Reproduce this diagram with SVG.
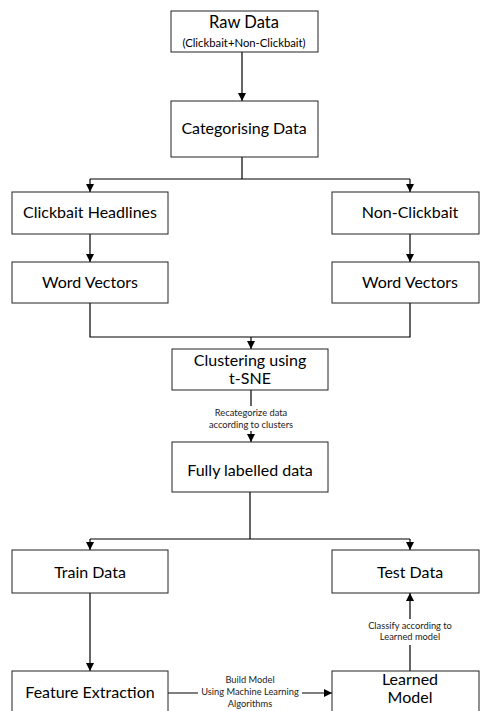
<svg xmlns="http://www.w3.org/2000/svg" width="480" height="711" viewBox="0 0 480 711">
<style>
.box{fill:#fff;stroke:#222;stroke-width:1}
.t{font-family:Lato,"Noto Sans",sans-serif;font-size:16px;fill:#000;text-anchor:middle}
.s{font-family:Lato,"Noto Sans",sans-serif;font-size:9.3px;fill:#222;text-anchor:middle}
.c{fill:none;stroke:#000;stroke-width:1.2}
</style>
<defs>
<marker id="ah" markerWidth="8" markerHeight="8" refX="8" refY="4" orient="auto" markerUnits="userSpaceOnUse">
<path d="M0,0 L8,4 L0,8 Z" fill="#000"/>
</marker>
</defs>
<g id="connectors">
<path class="c" d="M242,52 V101" marker-end="url(#ah)"/>
<path class="c" d="M242,157 V179 M90,179 H410"/>
<path class="c" d="M90,179 V192" marker-end="url(#ah)"/>
<path class="c" d="M410,179 V192" marker-end="url(#ah)"/>
<path class="c" d="M90,234 V262" marker-end="url(#ah)"/>
<path class="c" d="M410,234 V262" marker-end="url(#ah)"/>
<path class="c" d="M90,303 V337 H410 V303"/>
<path class="c" d="M251,337 V349" marker-end="url(#ah)"/>
<path class="c" d="M251,390 V406 M251,431 V442" marker-end="url(#ah)"/>
<text class="s" x="251" y="416">Recategorize data</text>
<text class="s" x="251" y="428">according to clusters</text>
<path class="c" d="M250,492 V539 M90,539 H410"/>
<path class="c" d="M90,539 V550" marker-end="url(#ah)"/>
<path class="c" d="M410,539 V550" marker-end="url(#ah)"/>
<path class="c" d="M90,593 V671" marker-end="url(#ah)"/>
<path class="c" d="M410,671 V645 M410,619 V593" marker-end="url(#ah)"/>
<text class="s" x="410" y="629">Classify according to</text>
<text class="s" x="410" y="640">Learned model</text>
<path class="c" d="M168,693 H198 M302,693 H332" marker-end="url(#ah)"/>
<text class="s" x="250" y="683">Build Model</text>
<text class="s" x="250" y="695">Using Machine Learning</text>
<text class="s" x="250" y="707">Algorithms</text>
</g>
<g id="raw"><rect class="box" x="171" y="11" width="147" height="41"/><text class="t" x="244" y="28" style="font-size:16.5px">Raw Data</text><text class="t" x="244" y="47" style="font-size:11.3px">(Clickbait+Non-Clickbait)</text></g>
<g id="cat"><rect class="box" x="171" y="101" width="147" height="56"/><text class="t" x="244" y="134">Categorising Data</text></g>
<g id="cb"><rect class="box" x="12" y="192" width="156" height="42"/><text class="t" x="90" y="218">Clickbait Headlines</text></g>
<g id="ncb"><rect class="box" x="332" y="192" width="147" height="42"/><text class="t" x="410" y="218">Non-Clickbait</text></g>
<g id="wv1"><rect class="box" x="12" y="262" width="156" height="41"/><text class="t" x="90" y="288">Word Vectors</text></g>
<g id="wv2"><rect class="box" x="332" y="262" width="147" height="41"/><text class="t" x="410" y="288">Word Vectors</text></g>
<g id="clus"><rect class="box" x="172" y="349" width="156" height="41"/><text class="t" x="250" y="366">Clustering using</text><text class="t" x="250" y="384">t-SNE</text></g>
<g id="full"><rect class="box" x="172" y="442" width="156" height="50"/><text class="t" x="250" y="476">Fully labelled data</text></g>
<g id="train"><rect class="box" x="12" y="550" width="156" height="43"/><text class="t" x="90" y="578">Train Data</text></g>
<g id="test"><rect class="box" x="332" y="550" width="147" height="43"/><text class="t" x="410" y="578">Test Data</text></g>
<g id="fe"><rect class="box" x="12" y="671" width="156" height="50"/><text class="t" x="90" y="698">Feature Extraction</text></g>
<g id="lm"><rect class="box" x="332" y="671" width="147" height="50"/><text class="t" x="410" y="685">Learned</text><text class="t" x="410" y="703">Model</text></g>
</svg>
